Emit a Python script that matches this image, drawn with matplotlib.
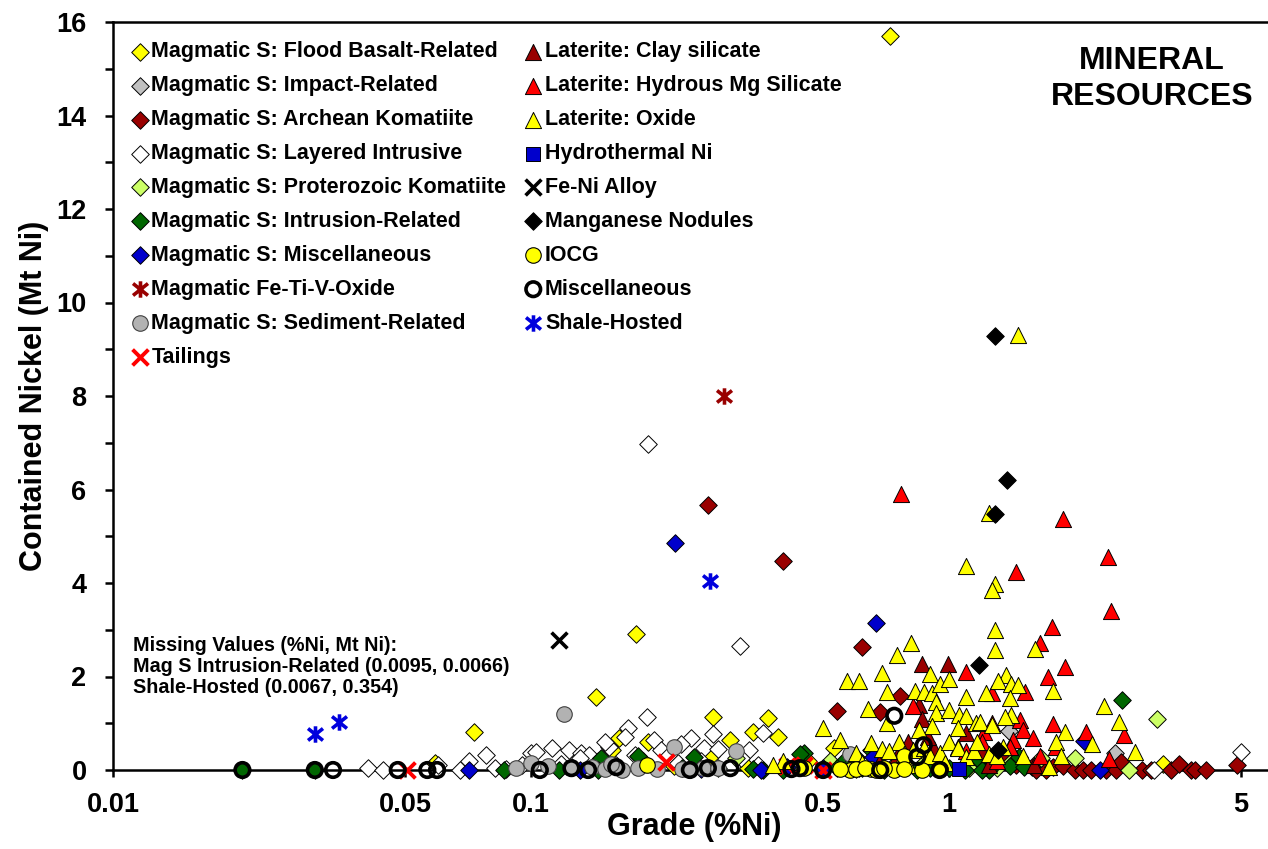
import matplotlib
matplotlib.use("Agg")
import matplotlib.pyplot as plt
from matplotlib.path import Path
from matplotlib.ticker import FixedLocator, MultipleLocator, NullLocator

plt.rcParams['font.family'] = ['Liberation Sans', 'DejaVu Sans']
plt.rcParams['font.weight'] = 'bold'

# ── Data: grade (%Ni) and contained nickel (Mt Ni) per deposit type ─────────
fb_grade = [0.724, 0.178, 0.143, 0.073, 0.273, 0.369, 0.34, 0.162, 0.191, 0.30, 0.39, 0.53,
            0.059, 0.156, 3.25, 0.22, 0.33, 0.27, 0.46, 0.25, 0.61, 0.185]
fb_ni = [15.7, 2.9, 1.56, 0.81, 1.13, 1.11, 0.81, 0.68, 0.6, 0.64, 0.71, 0.47,
         0.15, 0.42, 0.12, 0.08, 0.05, 0.3, 0.2, 0.12, 0.05, 0.2]

impact_grade = [1.39, 2.49, 0.74, 1.62]
impact_ni = [0.83, 0.36, 0.1, 0.05]

archean_grade = [0.265, 0.40, 0.62, 0.765, 0.685, 0.54, 1.58, 1.62, 1.71, 1.77, 1.87, 2.0,
                 2.09, 2.19, 2.38, 2.51, 2.58, 2.9, 3.04, 3.39, 3.55, 3.79, 3.89, 4.13,
                 4.88, 1.25, 1.45, 1.35, 1.1]
archean_ni = [5.67, 4.47, 2.63, 1.58, 1.24, 1.26, 0.06, 0.0, 0.0, 0.06, 0.08, 0.0,
              0.0, 0.0, 0.0, 0.0, 0.17, 0.0, 0.0, 0.0, 0.13, 0.0, 0.0, 0.0,
              0.1, 0.05, 0.1, 0.3, 0.08]

layered_grade = [0.191, 0.316, 0.0407, 0.0443, 0.0677, 0.071, 0.078, 0.082, 0.1, 0.112,
                 0.123, 0.132, 0.138, 0.19, 0.273, 0.36, 0.171, 0.168, 0.242, 0.26,
                 0.197, 0.205, 0.214, 0.333, 0.318, 0.103, 0.131, 0.154, 0.177, 0.145,
                 0.095, 0.118, 0.185, 0.225, 0.35, 0.06, 0.15, 0.228, 0.28, 0.255,
                 5.0, 3.1, 0.16, 0.087]
layered_ni = [6.97, 2.65, 0.04, 0.0, 0.0, 0.2, 0.32, 0.05, 0.36, 0.47,
              0.43, 0.36, 0.32, 1.13, 0.77, 0.79, 0.9, 0.7, 0.68, 0.47,
              0.64, 0.43, 0.32, 0.43, 0.26, 0.38, 0.26, 0.49, 0.32, 0.2,
              0.1, 0.12, 0.1, 0.15, 0.1, 0.1, 0.6, 0.55, 0.45, 0.2,
              0.38, 0.0, 0.1, 0.02]

protero_grade = [3.15, 2.0, 1.66, 2.7, 1.4, 0.31, 0.52, 0.95, 0.86, 1.12, 0.6, 1.3]
protero_ni = [1.1, 0.25, 0.25, 0.0, 0.15, 0.25, 0.2, 0.05, 0.1, 0.05, 0.02, 0.05]

intrusion_grade = [2.6, 0.0204, 0.0304, 0.086, 0.117, 0.147, 0.18, 0.245, 0.45, 0.36,
                   0.40, 0.44, 0.56, 0.6, 0.65, 0.54, 0.84, 0.87, 1.09, 1.18,
                   1.25, 1.2, 1.47, 1.4, 1.51, 0.75, 1.0, 0.28, 0.23, 0.62,
                   0.7, 0.9, 0.58, 0.68, 0.34, 0.145]
intrusion_ni = [1.5, 0.0, 0.0, 0.0, 0.0, 0.25, 0.3, 0.28, 0.37, 0.0,
                0.0, 0.34, 0.19, 0.28, 0.43, 0.04, 0.0, 0.05, 0.0, 0.21,
                0.0, 0.0, 0.28, 0.08, 0.06, 0.05, 0.04, 0.05, 0.04, 0.05,
                0.0, 0.05, 0.1, 0.15, 0.03, 0.0]

magmisc_grade = [0.221, 0.67, 0.071, 0.131, 0.355, 0.41, 0.66, 2.1, 2.3, 0.255, 0.5]
magmisc_ni = [4.86, 3.15, 0.0, 0.0, 0.0, 0.07, 0.28, 0.62, 0.0, 0.02, 0.05]

fetiv_grade = [0.29]
fetiv_ni = [8.0]

sediment_grade = [0.12, 0.092, 0.1, 0.14, 0.15, 0.18, 0.2, 0.22, 0.23, 0.258, 0.31,
                  0.58, 0.95, 0.28, 0.125, 0.165, 0.11, 0.24, 0.155]
sediment_ni = [1.2, 0.04, 0.15, 0.06, 0.02, 0.04, 0.02, 0.49, 0.02, 0.04, 0.41,
               0.34, 0.02, 0.05, 0.04, 0.0, 0.08, 0.03, 0.12]

tailings_grade = [0.0506, 0.21, 0.41, 0.45, 0.5]
tailings_ni = [0.0, 0.17, 0.08, 0.1, 0.0]

clay_grade = [0.86, 0.995, 0.85, 0.86, 1.2, 0.8, 0.92, 1.05, 0.75, 1.4, 1.25, 0.97,
              0.68, 1.6, 1.1, 0.89]
clay_ni = [2.27, 2.27, 1.4, 1.1, 0.4, 0.6, 0.45, 0.5, 0.3, 0.5, 0.1, 0.2,
           0.15, 0.1, 0.8, 0.7]

hydrous_grade = [0.77, 1.87, 2.4, 1.45, 2.44, 1.76, 1.65, 1.1, 1.9, 1.73, 1.52, 1.27,
                 0.82, 1.27, 1.21, 1.48, 1.5, 1.59, 1.42, 1.77, 2.13, 2.62, 1.8, 1.4,
                 2.42, 1.1, 0.95, 1.3, 1.65, 1.2]
hydrous_ni = [5.9, 5.37, 4.56, 4.24, 3.4, 3.06, 2.72, 2.1, 2.2, 2.0, 1.67, 1.64,
              1.37, 1.0, 0.81, 1.07, 0.85, 0.68, 0.64, 0.98, 0.81, 0.75, 0.5, 0.5,
              0.24, 0.4, 0.3, 0.2, 0.3, 0.6]

oxide_grade = [1.46, 1.25, 1.1, 1.29, 1.27, 1.29, 0.81, 1.29, 1.61, 0.75, 0.57, 0.61,
               0.69, 0.71, 0.64, 0.71, 0.5, 0.55, 0.9, 0.83, 0.87, 0.91, 0.95, 1.0,
               1.1, 0.93, 0.93, 0.91, 0.85, 1.0, 1.06, 1.1, 1.05, 1.16, 1.23, 1.37,
               1.31, 1.41, 1.46, 1.4, 1.77, 1.41, 1.36, 1.19, 1.27, 1.9, 2.35, 2.55,
               2.78, 2.2, 1.8, 0.65, 0.69, 0.76, 0.72, 0.78, 0.82, 0.87, 0.9, 0.95,
               1.0, 1.05, 1.1, 1.15, 1.25, 1.17, 1.3, 0.6, 0.4, 0.38, 1.74, 1.85,
               1.5, 1.35, 0.98, 0.62, 0.8]
oxide_ni = [9.3, 5.5, 4.36, 3.98, 3.85, 3.0, 2.72, 2.57, 2.58, 2.46, 1.9, 1.9,
            2.07, 1.67, 1.3, 1.0, 0.9, 0.64, 2.05, 1.7, 1.67, 1.65, 1.85, 1.95,
            1.56, 1.45, 1.22, 0.95, 0.86, 1.28, 1.17, 1.15, 0.9, 1.0, 1.64, 2.03,
            1.9, 1.84, 1.82, 1.54, 1.69, 1.18, 1.14, 1.03, 0.96, 0.81, 1.37, 1.03,
            0.39, 0.56, 0.6, 0.58, 0.45, 0.6, 0.4, 0.35, 0.42, 0.47, 0.3, 0.36,
            0.6, 0.47, 0.28, 0.4, 0.35, 0.6, 0.3, 0.36, 0.2, 0.1, 0.06, 0.3,
            0.3, 0.5, 0.15, 0.15, 0.1]

hydrothermal_grade = [1.06]
hydrothermal_ni = [0.02]

feni_grade = [0.117]
feni_ni = [2.78]

mn_grade = [1.29, 1.38, 1.29, 1.18, 1.31]
mn_ni = [9.28, 6.2, 5.48, 2.24, 0.43]

iocg_grade = [0.19, 0.58, 0.6, 0.65, 0.67, 0.74, 0.78, 0.78, 0.86, 0.45, 0.63, 0.55, 0.7, 0.95]
iocg_ni = [0.1, 0.0, 0.02, 0.02, 0.0, 0.0, 0.3, 0.02, 0.0, 0.05, 0.05, 0.02, 0.05, 0.02]

misc_grade = [0.0204, 0.0304, 0.0336, 0.048, 0.0565, 0.0596, 0.105, 0.125, 0.137, 0.16,
              0.265, 0.3, 0.44, 0.74, 0.87, 0.84, 0.685, 0.95, 0.42, 0.5, 0.24]
misc_ni = [0.0, 0.0, 0.0, 0.0, 0.0, 0.0, 0.0, 0.04, 0.0, 0.06,
           0.04, 0.04, 0.04, 1.16, 0.53, 0.28, 0.0, 0.0, 0.02, 0.0, 0.0]

shale_grade = [0.0304, 0.0347, 0.268]
shale_ni = [0.78, 1.03, 4.04]

x_ticks = [0.01, 0.05, 0.1, 0.5, 1, 5]
x_tick_labels = ['0.01', '0.05', '0.1', '0.5', '1', '5']

# ── Marker styles ─────────────────────────────────────────────────────────
STAR = Path([(-1, -0.8), (1, 0.8), (-1, 0.8), (1, -0.8), (0, -1.1), (0, 1.1)],
            [Path.MOVETO, Path.LINETO] * 3)

def diamond(fc):
    return dict(marker='D', s=80, facecolors=fc, edgecolors='black', linewidths=0.7)

def triangle(fc):
    return dict(marker='^', s=135, facecolors=fc, edgecolors='black', linewidths=0.7)

series = [
    ('Magmatic S: Flood Basalt-Related', fb_grade, fb_ni, diamond('#FFFF00')),
    ('Magmatic S: Impact-Related', impact_grade, impact_ni, diamond('#C0C0C0')),
    ('Magmatic S: Archean Komatiite', archean_grade, archean_ni, diamond('#990000')),
    ('Magmatic S: Layered Intrusive', layered_grade, layered_ni, diamond('white')),
    ('Magmatic S: Proterozoic Komatiite', protero_grade, protero_ni, diamond('#CCFF66')),
    ('Magmatic S: Intrusion-Related', intrusion_grade, intrusion_ni, diamond('#006600')),
    ('Magmatic S: Miscellaneous', magmisc_grade, magmisc_ni, diamond('#0000CC')),
    ('Magmatic Fe-Ti-V-Oxide', fetiv_grade, fetiv_ni,
     dict(marker=STAR, s=140, color='#990000', linewidths=2.6)),
    ('Magmatic S: Sediment-Related', sediment_grade, sediment_ni,
     dict(marker='o', s=125, facecolors='#B2B2B2', edgecolors='#404040', linewidths=0.8)),
    ('Tailings', tailings_grade, tailings_ni,
     dict(marker='x', s=130, color='#FF0000', linewidths=2.8)),
    ('Laterite: Clay silicate', clay_grade, clay_ni, triangle('#990000')),
    ('Laterite: Hydrous Mg Silicate', hydrous_grade, hydrous_ni, triangle('#FF0000')),
    ('Laterite: Oxide', oxide_grade, oxide_ni, triangle('#FFFF00')),
    ('Hydrothermal Ni', hydrothermal_grade, hydrothermal_ni,
     dict(marker='s', s=95, facecolors='#0000CC', edgecolors='black', linewidths=0.7)),
    ('Fe-Ni Alloy', feni_grade, feni_ni,
     dict(marker='x', s=130, color='black', linewidths=2.6)),
    ('Manganese Nodules', mn_grade, mn_ni, diamond('black')),
    ('IOCG', iocg_grade, iocg_ni,
     dict(marker='o', s=125, facecolors='#FFFF00', edgecolors='black', linewidths=0.8)),
    ('Miscellaneous', misc_grade, misc_ni,
     dict(marker='o', s=110, facecolors='none', edgecolors='black', linewidths=2.6)),
    ('Shale-Hosted', shale_grade, shale_ni,
     dict(marker=STAR, s=140, color='#0000DD', linewidths=2.6)),
]

# ── Figure ────────────────────────────────────────────────────────────────
fig = plt.figure(figsize=(12.68, 8.49), dpi=100)
ax = fig.add_axes([113 / 1268, 1 - 770 / 849, 1 - 113 / 1268, 748 / 849])

handles = []
for i, (label, gx, gy, style) in enumerate(series):
    h = ax.scatter(gx, gy, label=label, clip_on=False, zorder=3 + i, **style)
    handles.append(h)

ax.set_xscale('log')
ax.set_xlim(0.01, 5.8)
ax.set_ylim(0, 16)

ax.xaxis.set_major_locator(FixedLocator(x_ticks))
ax.xaxis.set_minor_locator(NullLocator())
ax.set_xticklabels(x_tick_labels)
ax.yaxis.set_major_locator(MultipleLocator(2))
ax.yaxis.set_minor_locator(MultipleLocator(1))

for sp in ['left', 'bottom', 'top']:
    ax.spines[sp].set_linewidth(1.8)
ax.spines['right'].set_visible(False)
ax.tick_params(axis='both', which='both', direction='out', width=1.8)
ax.tick_params(axis='x', length=5, pad=11, labelsize=19.5)
ax.tick_params(axis='y', which='major', length=6, pad=13, labelsize=19.5)
ax.tick_params(axis='y', which='minor', length=6)
ax.tick_params(top=False, right=False, which='both')

ax.legend(handles=handles, ncol=2, loc='upper left', bbox_to_anchor=(0.0155, 0.974),
          frameon=False, fontsize=15.5, handletextpad=0.15, handlelength=0.8,
          columnspacing=0.85, labelspacing=0.6, borderaxespad=0, borderpad=0,
          scatterpoints=1)

fig.text(133 / 1268, 1 - 636 / 849,
         'Missing Values (%Ni, Mt Ni):\nMag S Intrusion-Related (0.0095, 0.0066)\n'
         'Shale-Hosted (0.0067, 0.354)',
         ha='left', va='top', fontsize=14.2, fontweight='bold', linespacing=1.13)

fig.text(1152 / 1268, 1 - 79 / 849, 'MINERAL\nRESOURCES', ha='center', va='center',
         fontsize=23, fontweight='bold', linespacing=1.3)

fig.text(694 / 1268, 1 - 827 / 849, 'Grade (%Ni)', ha='center', va='center',
         fontsize=22, fontweight='bold')
fig.text(34 / 1268, 1 - 396 / 849, 'Contained Nickel (Mt Ni)', ha='center', va='center',
         rotation=90, fontsize=22, fontweight='bold')

fig.savefig('out.png', dpi=100)
